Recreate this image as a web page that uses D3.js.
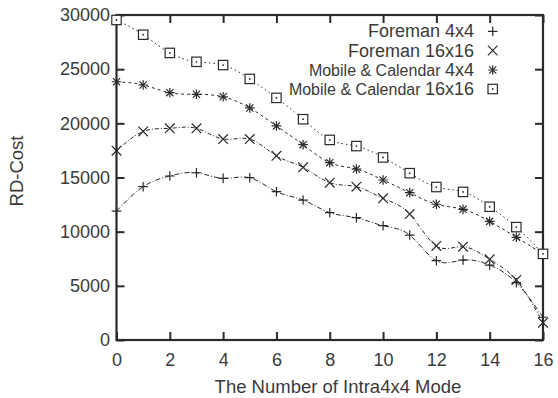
<!DOCTYPE html>
<html><head><meta charset="utf-8">
<script src="https://cdn.jsdelivr.net/npm/d3@7"></script>
<style>
html,body{margin:0;padding:0;background:#fff;}
text{font-family:"Liberation Sans",Arial,Helvetica,sans-serif;fill:#3a3a3a;}
</style></head>
<body><svg id="c" width="558" height="398"></svg>
<script>
const modes = [0,1,2,3,4,5,6,7,8,9,10,11,12,13,14,15,16];
const foreman4x4 = [11900,14150,15140,15440,14920,14980,13690,12920,11750,11290,10550,9690,7320,7380,6920,5290,2100];
const foreman16x16 = [17470,19250,19540,19540,18550,18550,17000,15940,14520,14150,13080,11630,8680,8610,7450,5540,1600];
const mc4x4 = [23840,23540,22830,22680,22450,21420,19760,18030,16370,15780,14770,13600,12530,12060,10950,9480,7950];
const mc16x16 = [29540,28180,26500,25680,25380,24100,22350,20380,18470,17900,16850,15400,14120,13670,12300,10420,7950];
const seriesNames = ["Foreman 4x4","Foreman 16x16","Mobile & Calendar 4x4","Mobile & Calendar 16x16"];
const xTicks = [0,2,4,6,8,10,12,14,16];
const yTicks = [0,5000,10000,15000,20000,25000,30000];

const svg = d3.select("#c");
const L=116.5, R=543, T=15, B=340;
const x = d3.scaleLinear().domain([0,16]).range([L,R]);
const y = d3.scaleLinear().domain([0,30000]).range([B,T]);
const ink = "#2a2a2a";
const txt = "#3a3a3a";

const series = [
  {name:seriesNames[0], data:foreman4x4, dash:"5,2,1,2", mk:"plus"},
  {name:seriesNames[1], data:foreman16x16, dash:"4,2,1,2", mk:"cross"},
  {name:seriesNames[2], data:mc4x4, dash:"3,3", mk:"star"},
  {name:seriesNames[3], data:mc16x16, dash:"1.5,3", mk:"box"}
];

// axes (inward ticks, mirrored)
const tl = 8;
svg.append("g").attr("transform",`translate(0,${B})`)
  .call(d3.axisBottom(x).tickValues(xTicks).tickSize(-tl).tickFormat(d3.format("d")))
  .call(g=>{g.select(".domain").remove();g.selectAll("line").attr("stroke",ink).attr("stroke-width",2);
    g.selectAll("text").attr("font-size",18).attr("fill",txt).attr("dy","0.75em").attr("y",12.5);});
svg.append("g").attr("transform",`translate(0,${T})`)
  .call(d3.axisTop(x).tickValues(xTicks).tickSize(-tl).tickFormat(""))
  .call(g=>{g.select(".domain").remove();g.selectAll("line").attr("stroke",ink).attr("stroke-width",2);});
svg.append("g").attr("transform",`translate(${L},0)`)
  .call(d3.axisLeft(y).tickValues(yTicks).tickSize(-tl).tickFormat(d3.format("d")))
  .call(g=>{g.select(".domain").remove();g.selectAll("line").attr("stroke",ink).attr("stroke-width",2);
    g.selectAll("text").attr("font-size",18).attr("fill",txt).attr("x",-6.5);});
svg.append("g").attr("transform",`translate(${R},0)`)
  .call(d3.axisRight(y).tickValues(yTicks).tickSize(-tl).tickFormat(""))
  .call(g=>{g.select(".domain").remove();g.selectAll("line").attr("stroke",ink).attr("stroke-width",2);});
svg.append("rect").attr("x",L).attr("y",T).attr("width",R-L).attr("height",B-T)
  .attr("fill","none").attr("stroke",ink).attr("stroke-width",2.2);

// labels
svg.append("text").attr("x",338).attr("y",393).attr("text-anchor","middle").attr("font-size",18.5).text("The Number of Intra4x4 Mode");
svg.append("text").attr("transform","translate(23,171) rotate(-90)").attr("text-anchor","middle").attr("font-size",18.5).text("RD-Cost");

// markers
function marker(g, type, cx, cy){
  const s=4.8;
  if(type==="plus"||type==="star")
    g.append("path").attr("d",`M${cx-s},${cy}H${cx+s}M${cx},${cy-s}V${cy+s}`).attr("stroke",ink).attr("stroke-width",1.2).attr("fill","none");
  if(type==="cross"||type==="star"){
    const c = type==="star"?3.6:s;
    g.append("path").attr("d",`M${cx-c},${cy-c}L${cx+c},${cy+c}M${cx-c},${cy+c}L${cx+c},${cy-c}`).attr("stroke",ink).attr("stroke-width",1.2).attr("fill","none");
  }
  if(type==="box"){
    g.append("rect").attr("x",cx-4.7).attr("y",cy-4.7).attr("width",9.4).attr("height",9.4).attr("fill","#fff").attr("stroke",ink).attr("stroke-width",1.2);
    g.append("circle").attr("cx",cx).attr("cy",cy).attr("r",0.9).attr("fill",ink);
  }
}

const line = d3.line().x((d,i)=>x(modes[i])).y(d=>y(d)).curve(d3.curveNatural);
series.forEach(s=>{
  svg.append("path").attr("d",line(s.data)).attr("fill","none").attr("stroke",ink).attr("stroke-width",1).attr("stroke-dasharray",s.dash);
});
series.forEach(s=>{
  const g=svg.append("g");
  s.data.forEach((v,i)=>marker(g,s.mk,x(modes[i]),y(v)));
});

// legend
const lg = svg.append("g");
const rowsY=[37.3,56.5,76,95];
series.forEach((s,i)=>{
  const t = lg.append("text").attr("x",474).attr("y",rowsY[i]).attr("text-anchor","end").attr("font-size",18);
  const parts = s.name.split(" ");
  const last = parts.pop();
  const first = parts.join(" ");
  if(first.startsWith("Mobile")){
    t.append("tspan").attr("font-size",16).text(first+" ");
    t.append("tspan").text(last);
  } else t.text(s.name);
  marker(lg, s.mk, 492.7, rowsY[i]-6);
});
</script></body></html>
